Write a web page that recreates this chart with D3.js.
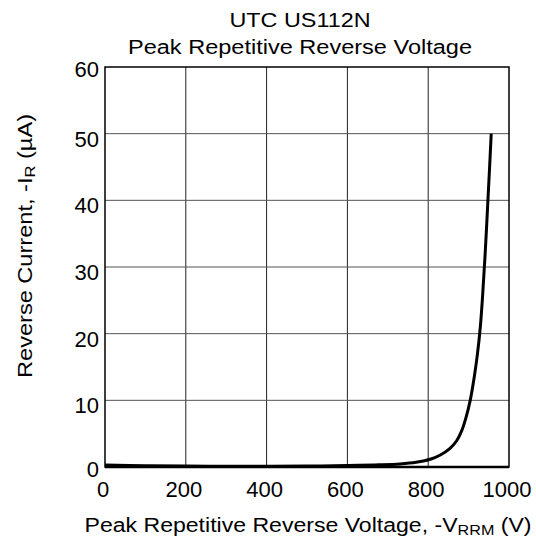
<!DOCTYPE html>
<html>
<head>
<meta charset="utf-8">
<script src="https://cdn.jsdelivr.net/npm/d3@7"></script>
<style>
  body { margin: 0; background: #fff; }
  svg text { font-family: "Liberation Sans", Arial, sans-serif; fill: #000; }
</style>
</head>
<body>
<svg></svg>
<script>
let width = 536;
let height = 540;

// curve: voltage (V) vs current (uA)
let voltage = [0, 100, 200, 300, 400, 500, 600, 680, 730, 770, 807, 830, 854, 870, 882, 893, 904, 914, 922, 929, 935, 941, 947, 952, 956];
let current = [0.3, 0.2, 0.15, 0.12, 0.12, 0.15, 0.22, 0.32, 0.45, 0.7, 1.2, 1.8, 2.8, 3.9, 5.3, 7.3, 10, 13.5, 17, 21, 26, 32, 39, 45, 50];

let xTicks = [0, 200, 400, 600, 800, 1000];
let yTicks = [0, 10, 20, 30, 40, 50, 60];

let svg = d3.select('svg')
    .attr('width', width)
    .attr('height', height);

let x = d3.scaleLinear().domain([0, 1000]).range([105, 509]);
let y = d3.scaleLinear().domain([0, 60]).range([467, 67]);

// grid
svg.append('g')
    .selectAll('line')
    .data(xTicks.slice(1, -1))
    .enter()
    .append('line')
    .attr('x1', d => x(d)).attr('x2', d => x(d))
    .attr('y1', y(60)).attr('y2', y(0))
    .attr('stroke', '#222')
    .attr('stroke-width', 1);

svg.append('g')
    .selectAll('line')
    .data(yTicks.slice(1, -1))
    .enter()
    .append('line')
    .attr('x1', x(0)).attr('x2', x(1000))
    .attr('y1', d => y(d)).attr('y2', d => y(d))
    .attr('stroke', '#555')
    .attr('stroke-width', 1);

// frame
svg.append('rect')
    .attr('x', x(0)).attr('y', y(60))
    .attr('width', x(1000) - x(0))
    .attr('height', y(0) - y(60))
    .attr('fill', 'none')
    .attr('stroke', '#000')
    .attr('stroke-width', 1.5);

svg.append('line')
    .attr('x1', x(0)).attr('x2', x(1000))
    .attr('y1', y(0)).attr('y2', y(0))
    .attr('stroke', '#000')
    .attr('stroke-width', 2.5);

// curve
let line = d3.line()
    .x(d => x(d[0]))
    .y(d => y(d[1]))
    .curve(d3.curveCatmullRom);

svg.append('path')
    .datum(d3.zip(voltage, current))
    .attr('d', line)
    .attr('fill', 'none')
    .attr('stroke', '#000')
    .attr('stroke-width', 3);

// tick labels
svg.append('g')
    .selectAll('text')
    .data(xTicks)
    .enter()
    .append('text')
    .attr('x', d => x(d) - 2)
    .attr('y', 497)
    .attr('text-anchor', 'middle')
    .style('font-size', '22px')
    .text(d => d);

svg.append('g')
    .selectAll('text')
    .data(yTicks)
    .enter()
    .append('text')
    .attr('x', 99)
    .attr('y', d => y(d) + (d === 0 || d === 60 ? 10 : 13))
    .attr('text-anchor', 'end')
    .style('font-size', '22px')
    .text(d => d);

// titles
svg.append('text')
    .attr('x', 300).attr('y', 27)
    .attr('text-anchor', 'middle')
    .attr('textLength', 141)
    .attr('lengthAdjust', 'spacingAndGlyphs')
    .style('font-size', '20px')
    .text('UTC US112N');

svg.append('text')
    .attr('x', 300).attr('y', 54)
    .attr('text-anchor', 'middle')
    .attr('textLength', 344)
    .attr('lengthAdjust', 'spacingAndGlyphs')
    .style('font-size', '20px')
    .text('Peak Repetitive Reverse Voltage');

let xt = svg.append('text')
    .attr('x', 308).attr('y', 532)
    .attr('text-anchor', 'middle')
    .attr('textLength', 447)
    .attr('lengthAdjust', 'spacingAndGlyphs')
    .style('font-size', '20px');
xt.append('tspan').text('Peak Repetitive Reverse Voltage, -V');
xt.append('tspan').attr('dy', 3).style('font-size', '14px').text('RRM');
xt.append('tspan').attr('dy', -3).text(' (V)');

let yt = svg.append('text')
    .attr('transform', 'translate(32,246) rotate(-90)')
    .attr('text-anchor', 'middle')
    .attr('textLength', 264)
    .attr('lengthAdjust', 'spacingAndGlyphs')
    .style('font-size', '20px');
yt.append('tspan').text('Reverse Current, -I');
yt.append('tspan').attr('dy', 3).style('font-size', '14px').text('R');
yt.append('tspan').attr('dy', -3).text(' (\u00b5A)');
</script>
</body>
</html>
